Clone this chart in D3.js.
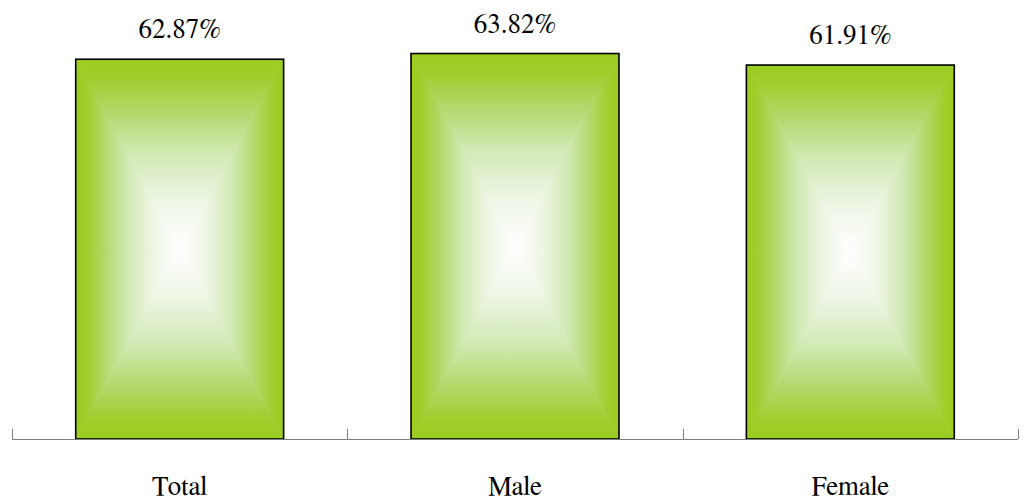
<!DOCTYPE html>
<html>
<head>
<meta charset="utf-8">
<script src="https://cdn.jsdelivr.net/npm/d3@7"></script>
<style>
  html, body { margin: 0; padding: 0; background: #fff; }
  svg { display: block; }
</style>
</head>
<body>
<svg id="chart" width="1024" height="501"></svg>
<script>
// Share by group (percent)
const categories = ["Total", "Male", "Female"];
const values = [62.87, 63.82, 61.91];
const valueLabels = ["62.87%", "63.82%", "61.91%"];

const serif = "FreeSerif, 'Liberation Serif', serif";
const baseY = 439;
const svg = d3.select("#chart");

const x = d3.scaleBand()
  .domain(categories)
  .range([12, 1018])
  .paddingInner(0.38)
  .paddingOuter(0.19);

const y = d3.scaleLinear()
  .domain([0, 70])
  .range([baseY, baseY - 70 * 6.04]);

const green = "#9bcc1f";
const defs = svg.append("defs");

// Four linear gradients, each running from one edge toward the bar centre;
// applied to the four triangles of a bar they give a rectangular glow.
const dirs = [
  { id: "g-top",    x1: 0, y1: 0, x2: 0, y2: 1 },
  { id: "g-bottom", x1: 0, y1: 1, x2: 0, y2: 0 },
  { id: "g-left",   x1: 0, y1: 0, x2: 1, y2: 0 },
  { id: "g-right",  x1: 1, y1: 0, x2: 0, y2: 0 }
];
const stops = [
  [0, green], [0.1, "#a0ce2c"], [0.3, "#b5da72"],
  [0.5, "#d2e9b4"], [0.75, "#eef6e6"], [1, "#ffffff"]
];
dirs.forEach(d => {
  const g = defs.append("linearGradient")
    .attr("id", d.id)
    .attr("x1", d.x1).attr("y1", d.y1)
    .attr("x2", d.x2).attr("y2", d.y2);
  stops.forEach(s => g.append("stop").attr("offset", s[0]).attr("stop-color", s[1]));
});

const data = categories.map((c, i) => ({ cat: c, value: values[i], label: valueLabels[i] }));

const bars = svg.append("g").selectAll("g.bar")
  .data(data)
  .enter().append("g").attr("class", "bar");

bars.each(function (d) {
  const g = d3.select(this);
  const x0 = x(d.cat), x1 = x0 + x.bandwidth();
  const y0 = y(d.value), y1 = y(0);
  const cx = (x0 + x1) / 2, cy = (y0 + y1) / 2;
  const tris = [
    { fill: "g-top",    pts: [[x0, y0], [x1, y0], [cx, cy]] },
    { fill: "g-bottom", pts: [[x0, y1], [x1, y1], [cx, cy]] },
    { fill: "g-left",   pts: [[x0, y0], [x0, y1], [cx, cy]] },
    { fill: "g-right",  pts: [[x1, y0], [x1, y1], [cx, cy]] }
  ];
  tris.forEach(t => {
    g.append("polygon")
      .attr("points", t.pts.map(p => p.join(",")).join(" "))
      .attr("fill", `url(#${t.fill})`)
      .attr("stroke", `url(#${t.fill})`)
      .attr("stroke-width", 0.8)
      .attr("stroke-linejoin", "round");
  });
  g.append("rect")
    .attr("x", x0).attr("y", y0)
    .attr("width", x1 - x0).attr("height", y1 - y0)
    .attr("fill", "none")
    .attr("stroke", "#000")
    .attr("stroke-width", 1.6);
  g.append("text")
    .attr("x", cx)
    .attr("y", y0 - 21)
    .attr("text-anchor", "middle")
    .style("font-family", serif)
    .style("font-size", "27px")
    .style("fill", "#000")
    .text(d.label);
});

// Category axis: baseline with upward ticks at the band boundaries
const axis = svg.append("g");
const step = x.step();
const bounds = d3.range(categories.length + 1).map(i => x.range()[0] + i * step);
axis.append("line")
  .attr("x1", x.range()[0]).attr("x2", x.range()[1])
  .attr("y1", baseY + 0.5).attr("y2", baseY + 0.5)
  .attr("stroke", "#808080").attr("stroke-width", 1);
axis.selectAll("line.tick")
  .data(bounds)
  .enter().append("line")
  .attr("class", "tick")
  .attr("x1", d => Math.round(d) + 0.5).attr("x2", d => Math.round(d) + 0.5)
  .attr("y1", baseY - 10).attr("y2", baseY)
  .attr("stroke", "#808080").attr("stroke-width", 1);
axis.selectAll("text")
  .data(categories)
  .enter().append("text")
  .attr("x", d => x(d) + x.bandwidth() / 2)
  .attr("y", 495)
  .attr("text-anchor", "middle")
  .style("font-family", serif)
  .style("font-size", "27px")
  .style("fill", "#000")
  .text(d => d);
</script>
</body>
</html>
